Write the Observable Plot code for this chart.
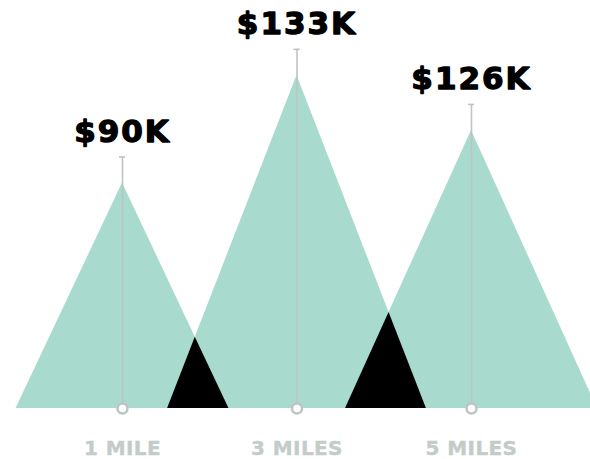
<!DOCTYPE html>
<html>
<head>
<meta charset="utf-8">
<script src="https://cdn.jsdelivr.net/npm/d3@7"></script>
<script src="https://cdn.jsdelivr.net/npm/@observablehq/plot@0.6"></script>
<style>
  html, body { margin: 0; padding: 0; background: #fff; }
  #chart svg { display: block; }
</style>
</head>
<body>
<div id="chart"></div>
<script>
// ---- data ----
const miles = [1, 3, 5];
const mileLabels = ["1 MILE", "3 MILES", "5 MILES"];
const salaryK = [90, 133, 126];
const salaryLabels = ["$90K", "$133K", "$126K"];
// mountain heights as drawn in the picture ($K)
const peakK = [90, 133, 111];

// ---- styling constants ----
const halfWidthPerSqrtK = 0.1286; // base half-width (miles) per sqrt($K)
const stemExtraK = 10.4;          // stem sticks out above the peak
const teal = "#a8dbce";
const gray = "#bec4c1";
const axisGray = "#c3ccc8";

// build triangles
const tri = [];
const geo = miles.map((m, i) => {
  const w = halfWidthPerSqrtK * Math.sqrt(salaryK[i]);
  const h = peakK[i];
  tri.push({i, x: m - w, y: 0}, {i, x: m, y: h}, {i, x: m + w, y: 0});
  return {c: m, w, h, L: m - w, R: m + w};
});

// overlaps between neighbouring mountains
const overlap = [];
for (let i = 0; i < geo.length - 1; i++) {
  const a = geo[i], b = geo[i + 1];
  if (b.L < a.R) {
    const ka = a.h / a.w, kb = b.h / b.w;
    const xi = (ka * a.R + kb * b.L) / (ka + kb);
    const yi = ka * (a.R - xi);
    overlap.push({i, x: b.L, y: 0}, {i, x: xi, y: yi}, {i, x: a.R, y: 0});
  }
}

const pts = miles.map((m, i) => ({m, peak: peakK[i], top: peakK[i] + stemExtraK, label: salaryLabels[i]}));

const chart = Plot.plot({
  width: 590,
  height: 459,
  marginLeft: 34.75,
  marginRight: 31.75,
  marginTop: 0,
  marginBottom: 51,
  x: {domain: [0, 6]},
  y: {domain: [0, 162.9], axis: null},
  style: {fontFamily: "DejaVu Sans", fontSize: "20px", fontWeight: "bold", background: "#fff"},
  marks: [
    Plot.areaY(tri, {x: "x", y: "y", z: "i", fill: teal, curve: "linear"}),
    Plot.areaY(overlap, {x: "x", y: "y", z: "i", fill: "#000", curve: "linear"}),
    Plot.ruleX(pts, {x: "m", y1: 0, y2: "top", stroke: gray, strokeWidth: 1.6}),
    Plot.ruleY(pts, {x1: d => d.m - 0.035, x2: d => d.m + 0.035, y: "top", stroke: gray, strokeWidth: 1.6}),
    Plot.dot(pts, {x: "m", y: 0, r: 5, stroke: gray, strokeWidth: 2.5, fill: "#fff"}),
    Plot.text(pts, {x: "m", y: "top", text: "label", dy: -15, lineAnchor: "bottom", textAnchor: "middle",
      fontSize: 31, fontWeight: "bold", fill: "#000", stroke: "#000", strokeWidth: 1.3}),
    Plot.axisX({ticks: miles, tickFormat: d => mileLabels[miles.indexOf(d)], tickSize: 0, tickPadding: 32,
      label: null, color: axisGray, fontSize: 20})
  ]
});

d3.select(chart).selectAll('g[aria-label="text"] text').attr("letter-spacing", "2px");
d3.select(chart).selectAll('g[aria-label="x-axis tick label"] text')
  .attr("letter-spacing", "0.4px").attr("stroke", axisGray).attr("stroke-width", 0.4);
document.getElementById("chart").appendChild(chart);
</script>
</body>
</html>
